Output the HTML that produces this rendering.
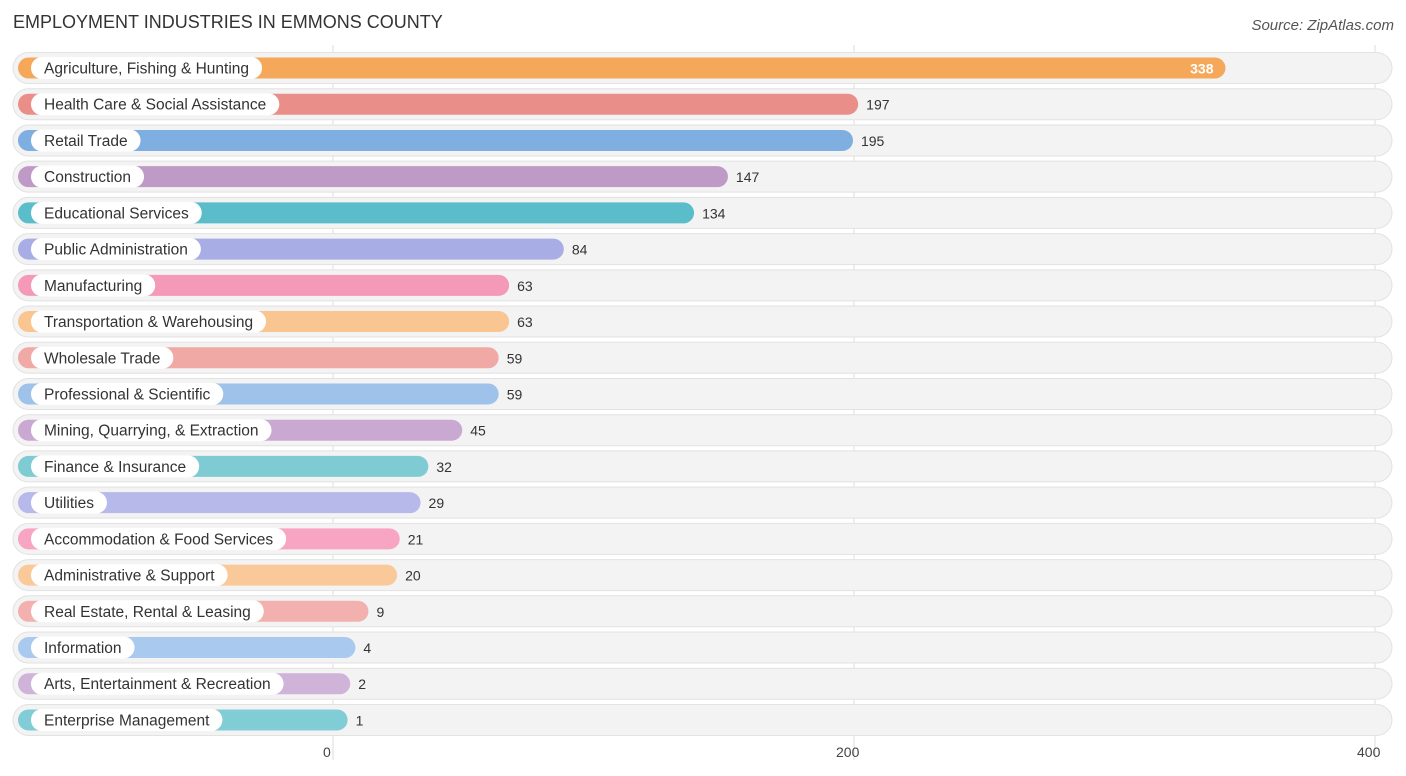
<!DOCTYPE html>
<html><head><meta charset="utf-8"><style>
body{margin:0;background:#fff;font-family:"Liberation Sans",sans-serif;}
svg{display:block}
</style></head><body>
<svg id="chart" width="1406" height="776">
<text x="13" y="28" font-size="18" fill="#333">EMPLOYMENT INDUSTRIES IN EMMONS COUNTY</text>
<text x="1394" y="30" font-size="15" fill="#555" font-style="italic" text-anchor="end">Source: ZipAtlas.com</text>
<g id="grid"></g><g id="rows"></g><g id="ticks"></g>
</svg>
<script>
const categories=["Agriculture, Fishing & Hunting","Health Care & Social Assistance","Retail Trade","Construction","Educational Services","Public Administration","Manufacturing","Transportation & Warehousing","Wholesale Trade","Professional & Scientific","Mining, Quarrying, & Extraction","Finance & Insurance","Utilities","Accommodation & Food Services","Administrative & Support","Real Estate, Rental & Leasing","Information","Arts, Entertainment & Recreation","Enterprise Management"];
const values=[338,197,195,147,134,84,63,63,59,59,45,32,29,21,20,9,4,2,1];
const tickValues=[0,200,400];
const colors=["#f6a85a","#ea8e8a","#7faee0","#c09ac6","#5bbdc9","#a8ade6","#f599b8","#f9c591","#f0a9a5","#9fc2ea","#c9a9d2","#7fcbd3","#b7b9ea","#f7a5c2","#fac99a","#f2b1ae","#a9c9ee","#d0b3d8","#81cdd5"];
const ns="http://www.w3.org/2000/svg";
const x=v=>333+v*2.605;
const rowY=i=>68+i*36.22;
function mk(t,a,p){const e=document.createElementNS(ns,t);for(const k in a)e.setAttribute(k,a[k]);p.appendChild(e);return e;}
const grid=document.getElementById('grid'),ticks=document.getElementById('ticks'),rows=document.getElementById('rows');
tickValues.forEach(t=>{
 const l=mk('line',{x1:x(t),x2:x(t),y1:45,y2:760,stroke:'#ddd','stroke-width':1},grid);
 
 
 const tx=mk('text',{x:x(t)-(t==400?18:t==0?10:18),y:757,'font-size':14,fill:'#444'},ticks);
 tx.textContent=t;
 
 
});
categories.forEach((c,i)=>{
 const y=rowY(i),v=values[i];
 const g=mk('g',{},rows);
 
 
 const bg=mk('rect',{x:13,y:y-15.5,width:1379,height:31,rx:15.5,fill:'#f3f3f3',stroke:'#e2e2e2','stroke-width':1},g);
 
 
 const end=x(v)+12;
 const bar=mk('rect',{x:18,y:y-10.5,width:end-18,height:21,rx:10.5,fill:colors[i]},g);
 
 
 const lbl=mk('text',{x:44,y:y+5.5,'font-size':15.5,fill:'#333'},g);
 lbl.textContent=c;
 const w=lbl.getComputedTextLength();
 const pill=mk('rect',{x:31,y:y-11,width:w+26,height:22,rx:11,fill:'#fff'},g);
 g.insertBefore(pill,lbl);
 
 
 
 
 const inside=v>300;
 const val=mk('text',{x:inside?end-12:end+8,y:y+5.5,'font-size':14,fill:inside?'#fff':'#333','text-anchor':inside?'end':'start','font-weight':inside?'bold':'normal'},g);
 val.textContent=v;
 
 
});
</script>
</body></html>
